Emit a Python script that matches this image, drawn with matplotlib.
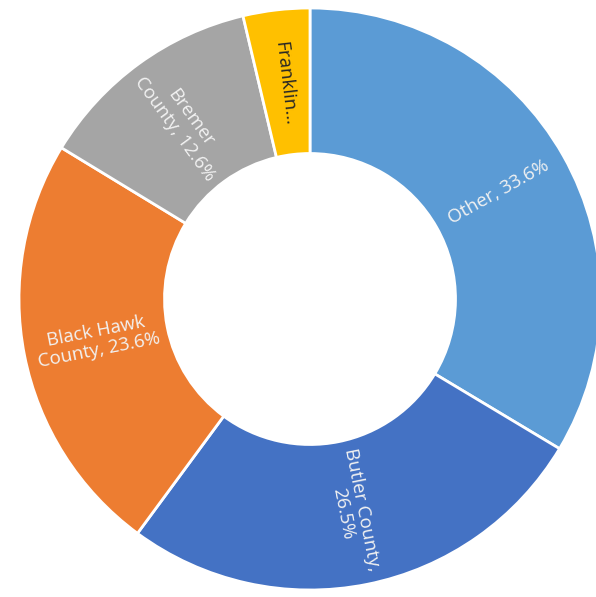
import matplotlib
matplotlib.use("Agg")
import matplotlib.pyplot as plt
import numpy as np

categories = ["Other", "Butler County", "Black Hawk County", "Bremer County", "Franklin County"]
values = [33.6, 26.5, 23.6, 12.6, 3.7]
label_texts = ["Other, 33.6%", "Butler County,\n26.5%", "Black Hawk\nCounty, 23.6%", "Bremer\nCounty, 12.6%", "Franklin…"]
colors = ["#5B9BD5", "#4472C4", "#ED7D31", "#A5A5A5", "#FFC000"]
text_colors = ["#F2F2F2", "#F2F2F2", "#F2F2F2", "#F2F2F2", "#262626"]

fig = plt.figure(figsize=(5.96, 5.97), dpi=100)
W, H = 596, 597
cx, cy, R = 310, 299, 291
ax = fig.add_axes([(cx - R) / W, (H - cy - R) / H, 2 * R / W, 2 * R / H])

wedges, _ = ax.pie(values, colors=colors, startangle=90, counterclock=False, radius=1.0,
                   wedgeprops=dict(width=0.5, edgecolor="white", linewidth=2),
                   frame=False)
ax.set_xlim(-1, 1)
ax.set_ylim(-1, 1)
ax.set_aspect("auto")
ax.axis("off")
for w in wedges:
    w.set_clip_on(False)

for w, txt, tc in zip(wedges, label_texts, text_colors):
    mid = (w.theta1 + w.theta2) / 2.0
    r = 0.745
    x = r * np.cos(np.radians(mid))
    y = r * np.sin(np.radians(mid))
    rot = mid % 360
    if 90 < rot < 270:
        rot -= 180
    elif rot >= 270:
        rot -= 360
    ax.text(x, y, txt, rotation=rot, rotation_mode="anchor", ha="center", va="center",
            multialignment="center", color=tc, fontsize=13.5, linespacing=1.05,
            family=["Open Sans", "DejaVu Sans"])

fig.savefig("out.png", dpi=100)
